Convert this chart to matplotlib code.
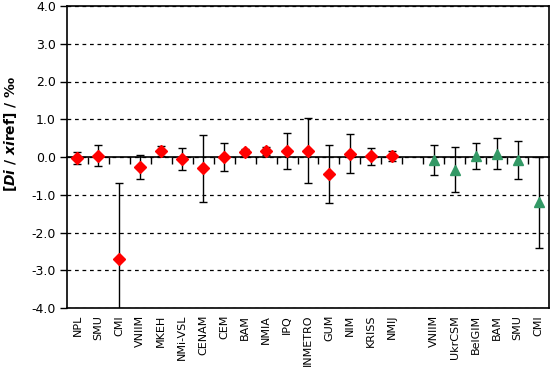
import matplotlib
matplotlib.use('Agg')
import numpy as np
import matplotlib.pyplot as plt

# laboratories, first comparison (red) then second comparison (green)
labs_a = ['NPL', 'SMU', 'CMI', 'VNIIM', 'MKEH', 'NMi-VSL', 'CENAM', 'CEM', 'BAM',
          'NMIA', 'IPQ', 'INMETRO', 'GUM', 'NIM', 'KRISS', 'NMIJ']
vals_a = [-0.02, 0.03, -2.69, -0.27, 0.15, -0.06, -0.30, 0.00, 0.12,
          0.16, 0.15, 0.16, -0.46, 0.09, 0.02, 0.02]
errs_a = [0.16, 0.28, 1.99, 0.32, 0.13, 0.29, 0.89, 0.37, 0.10,
          0.10, 0.48, 0.86, 0.77, 0.51, 0.22, 0.13]

labs_b = ['VNIIM', 'UkrCSM', 'BelGIM', 'BAM', 'SMU', 'CMI']
vals_b = [-0.09, -0.34, 0.02, 0.09, -0.08, -1.20]
errs_b = [0.40, 0.60, 0.35, 0.42, 0.51, 1.21]

labels = labs_a + [''] + labs_b
xa = np.arange(len(labs_a))
xb = np.arange(len(labs_b)) + len(labs_a) + 1

red = '#ff0000'
green = '#339966'

fig = plt.figure(figsize=(5.54, 3.78), dpi=100)
ax = fig.add_axes([67/554, 1 - 308/378, 482/554, 302/378])

ax.errorbar(xa, vals_a, yerr=errs_a, fmt='D', color=red, ms=6, mec=red,
            ecolor='black', elinewidth=1, capsize=3, capthick=1, zorder=3)
ax.errorbar(xb, vals_b, yerr=errs_b, fmt='^', color=green, ms=7, mec=green,
            ecolor='black', elinewidth=1, capsize=3, capthick=1, zorder=3)

ax.set_xlim(-0.5, len(labels) - 0.5)
ax.set_ylim(-4, 4)
ax.set_yticks(np.arange(-4, 4.1, 1))
ax.set_yticklabels(['%.1f' % v for v in np.arange(-4, 4.1, 1)], fontsize=9)
ax.yaxis.grid(True, color='black', linestyle=(0, (3, 3)), linewidth=0.9)
ax.set_axisbelow(True)
ax.tick_params(axis='y', direction='out', length=5, width=1, pad=3)

ax.set_xticks(np.arange(len(labels)))
ax.set_xticklabels(labels, rotation=90, fontsize=8, va='top')
ax.tick_params(axis='x', length=0, pad=5)

for s in ax.spines.values():
    s.set_linewidth(1.2)

# zero line with boundary ticks pointing down
sec = ax.secondary_xaxis(0.5)
sec.set_alignment('bottom')
sec.set_xticks(np.arange(len(labels) - 1) + 0.5)
sec.set_xticklabels([])
sec.tick_params(direction='out', length=5, width=1)
sec.spines['bottom'].set_linewidth(1.2)

ax.set_ylabel(r'[$\mathbfit{Di}$ / $\mathbfit{xi}$ref] / ‰', fontsize=10,
              fontweight='bold')
ax.yaxis.set_label_coords(-0.10, 0.576)

fig.savefig('out.png', dpi=100)
